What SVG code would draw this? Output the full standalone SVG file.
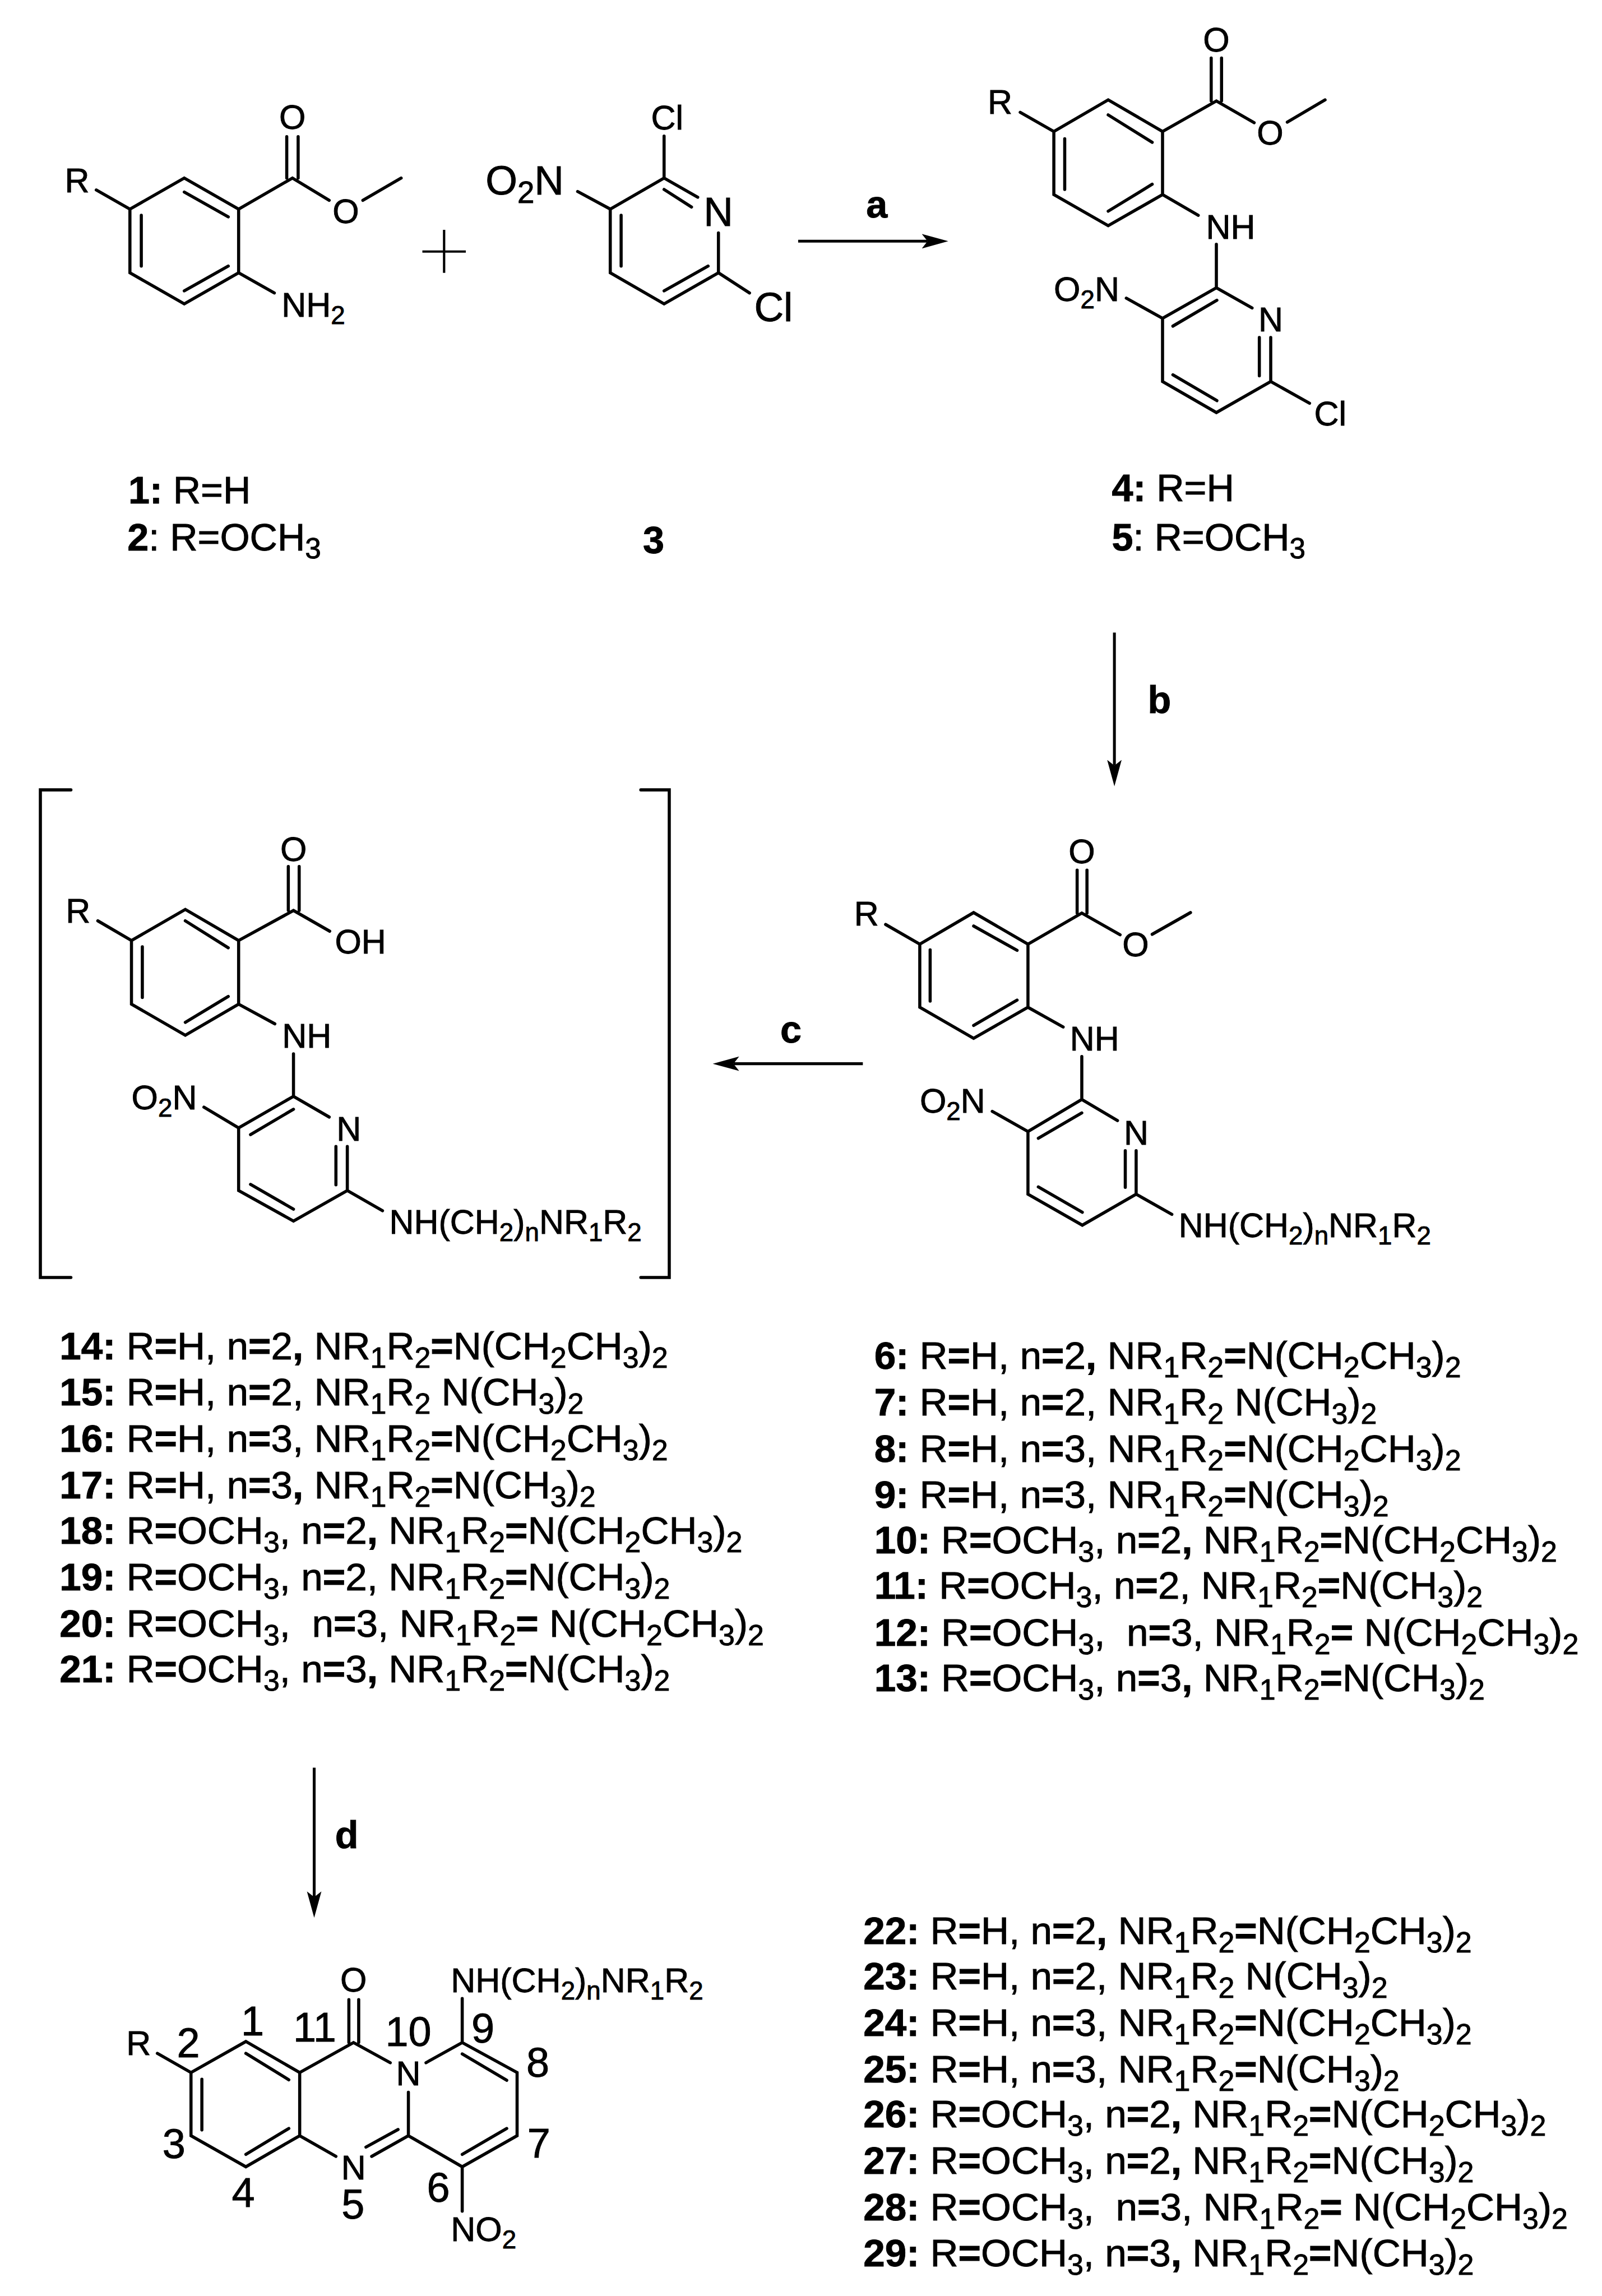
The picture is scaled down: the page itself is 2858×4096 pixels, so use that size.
<svg xmlns="http://www.w3.org/2000/svg" width="2858" height="4096" viewBox="0 0 2858 4096">
<style>
text{font-family:"Liberation Sans",Arial,sans-serif;fill:#000;stroke:#000;stroke-width:1;white-space:pre}
.m{font-size:66px}.l{font-size:79px}.c{font-size:74px}.t{font-size:75px}.n{font-size:80px;text-anchor:middle}.mid{text-anchor:middle}
.h{font-weight:bold}.b{font-weight:bold}
.s{font-size:.75em;baseline-shift:-.28em}
.bond{fill:none;stroke:#000;stroke-width:6;stroke-linecap:round;stroke-linejoin:miter}
.thin{fill:none;stroke:#000;stroke-width:4.5}
.arrow{fill:none;stroke:#000;stroke-width:5.5}
</style>
<defs><marker id="head" markerUnits="userSpaceOnUse" markerWidth="52" markerHeight="30" viewBox="0 0 52 30" refX="11" refY="15" orient="auto"><path d="M0 1L51 15L0 29L11 15Z" fill="#000"/></marker></defs>
<rect width="2858" height="4096" fill="#fff"/>
<g transform="scale(0.92342)">
<g id="connectors">
<path class="arrow" marker-end="url(#head)" d="M1542 466H1792"/>
<path class="arrow" marker-end="url(#head)" d="M2153 1222V1479"/>
<path class="arrow" marker-end="url(#head)" d="M1667 2055H1417"/>
<path class="arrow" marker-end="url(#head)" d="M607 3415V3665"/>
<text class="c h mid" x="1694" y="420">a</text>
<text class="c h mid" x="2240" y="1378">b</text>
<text class="c h mid" x="1528" y="2014">c</text>
<text class="c h mid" x="670" y="3570">d</text>
</g>
<g id="plus"><path class="thin" d="M816 486H900M858 444V527"/></g>
<g id="compound-1">
<path class="bond" d="M186 367L251 404L356 344L461 404V527L356 587L251 527V404M356 371L441 419M273 416V514M356 562L441 514M461 404L565 344L636 387M701 387L775 344M554 344V264M576 344V264M461 527L530 566"/>
<text class="m" x="125" y="371">R</text><text class="m mid" x="565" y="249">O</text><text class="m mid" x="668" y="431">O</text>
<text class="m" x="544" y="612">NH<tspan class="s">2</tspan></text>
<text class="c" x="248" y="973"><tspan class="h">1:</tspan> R=H</text>
<text class="c" x="246" y="1063"><tspan class="h">2</tspan>: R=OCH<tspan class="s">3</tspan></text>
</g>
<g id="compound-3">
<path class="bond" d="M1116 370L1179 404L1283 344L1348 381M1388 450V527L1283 587L1179 527V404M1283 366L1336 400M1200 416V514M1283 562L1368 514M1388 527L1448 566M1283 263V344"/>
<text class="m mid" x="1289" y="250">Cl</text>
<text class="l" x="938" y="376">O<tspan class="s">2</tspan>N</text>
<text class="l mid" x="1388" y="436">N</text>
<text class="l" x="1457" y="620">Cl</text>
<text class="c h" x="1242" y="1069">3</text>
</g>
<g id="compound-4">
<path class="bond" d="M1971 217L2036 254L2141 193L2246 254V376L2141 436L2036 376V254M2141 222L2226 275M2057 268V366M2141 408L2226 356M2246 254L2350 195L2423 237M2487 236L2560 193M2340 195V112M2360 195V112M2246 376L2315 416M2350 472V556L2419 595M2350 556L2246 615V737L2350 797L2455 737V652M2351 580L2266 630M2433 652V726M2266 724L2351 774M2455 737L2530 779M2176 576L2246 615"/>
<text class="m" x="1908" y="220">R</text><text class="m mid" x="2350" y="100">O</text><text class="m mid" x="2454" y="279">O</text>
<text class="m" x="2330" y="461">NH</text>
<text class="m" x="2036" y="581">O<tspan class="s">2</tspan>N</text>
<text class="m mid" x="2455" y="640">N</text>
<text class="m" x="2539" y="822">Cl</text>
<text class="c" x="2148" y="968"><tspan class="h">4:</tspan> R=H</text>
<text class="c" x="2148" y="1063"><tspan class="h">5</tspan>: R=OCH<tspan class="s">3</tspan></text>
</g>
<g id="compound-6">
<path class="bond" d="M1711 1786L1777 1824L1881 1763L1986 1824V1946L1881 2006L1777 1946V1824M1881 1789L1965 1836M1797 1835V1934M1881 1981L1965 1932M1986 1824L2090 1764L2164 1806M2226 1805L2300 1763M2081 1764V1681M2100 1764V1681M1986 1946L2054 1984M2090 2041V2124L2159 2165M2090 2124L1986 2186V2307L2091 2367L2195 2307V2223M2090 2150L2006 2199M2174 2223V2294M2006 2293L2091 2342M2195 2307L2264 2346M1917 2147L1986 2186"/>
<text class="m" x="1650" y="1788">R</text><text class="m mid" x="2090" y="1668">O</text><text class="m mid" x="2194" y="1848">O</text>
<text class="m" x="2067" y="2029">NH</text>
<text class="m" x="1777" y="2150">O<tspan class="s">2</tspan>N</text>
<text class="m mid" x="2195" y="2211">N</text>
<text class="m" x="2277" y="2390">NH(CH<tspan class="s">2</tspan>)<tspan class="s">n</tspan>NR<tspan class="s">1</tspan>R<tspan class="s">2</tspan></text>
</g>
<g id="compound-14">
<path class="bond" d="M137 1526H78V2468H137M1238 1526H1293V2468H1238"/>
<path class="bond" d="M189 1779L254 1817L358 1757L461 1817V1940L358 2000L254 1940V1817M358 1779L441 1831M275 1829V1927M358 1975L441 1925M461 1817L567 1759L637 1799M557 1759V1674M578 1759V1674M461 1940L531 1978M567 2036V2118L636 2158M567 2118L461 2179V2300L567 2359L671 2300V2215M567 2143L484 2192M649 2215V2289M484 2288L567 2336M671 2300L739 2339M394 2139L461 2179"/>
<text class="m" x="127" y="1783">R</text><text class="m mid" x="567" y="1663">O</text>
<text class="m" x="647" y="1842">OH</text>
<text class="m" x="545" y="2024">NH</text>
<text class="m" x="254" y="2143">O<tspan class="s">2</tspan>N</text>
<text class="m" x="650" y="2204">N</text>
<text class="m" x="752" y="2384">NH(CH<tspan class="s">2</tspan>)<tspan class="s">n</tspan>NR<tspan class="s">1</tspan>R<tspan class="s">2</tspan></text>
</g>
<g id="list-14-21">
<text class="t" x="115" y="2626"><tspan class="h">14:</tspan> R<tspan class="b">=</tspan>H, n<tspan class="b">=</tspan>2<tspan class="b">,</tspan> NR<tspan class="s">1</tspan>R<tspan class="s">2</tspan><tspan class="b">=</tspan>N(CH<tspan class="s">2</tspan>CH<tspan class="s">3</tspan>)<tspan class="s">2</tspan></text>
<text class="t" x="115" y="2715"><tspan class="h">15:</tspan> R<tspan class="b">=</tspan>H, n<tspan class="b">=</tspan>2, NR<tspan class="s">1</tspan>R<tspan class="s">2</tspan> N(CH<tspan class="s">3</tspan>)<tspan class="s">2</tspan></text>
<text class="t" x="115" y="2805"><tspan class="h">16:</tspan> R<tspan class="b">=</tspan>H, n<tspan class="b">=</tspan>3, NR<tspan class="s">1</tspan>R<tspan class="s">2</tspan><tspan class="b">=</tspan>N(CH<tspan class="s">2</tspan>CH<tspan class="s">3</tspan>)<tspan class="s">2</tspan></text>
<text class="t" x="115" y="2895"><tspan class="h">17:</tspan> R<tspan class="b">=</tspan>H, n<tspan class="b">=</tspan>3<tspan class="b">,</tspan> NR<tspan class="s">1</tspan>R<tspan class="s">2</tspan><tspan class="b">=</tspan>N(CH<tspan class="s">3</tspan>)<tspan class="s">2</tspan></text>
<text class="t" x="115" y="2982"><tspan class="h">18:</tspan> R<tspan class="b">=</tspan>OCH<tspan class="s">3</tspan>, n<tspan class="b">=</tspan>2<tspan class="b">,</tspan> NR<tspan class="s">1</tspan>R<tspan class="s">2</tspan><tspan class="b">=</tspan>N(CH<tspan class="s">2</tspan>CH<tspan class="s">3</tspan>)<tspan class="s">2</tspan></text>
<text class="t" x="115" y="3072"><tspan class="h">19:</tspan> R<tspan class="b">=</tspan>OCH<tspan class="s">3</tspan>, n<tspan class="b">=</tspan>2, NR<tspan class="s">1</tspan>R<tspan class="s">2</tspan><tspan class="b">=</tspan>N(CH<tspan class="s">3</tspan>)<tspan class="s">2</tspan></text>
<text class="t" x="115" y="3162"><tspan class="h">20:</tspan> R<tspan class="b">=</tspan>OCH<tspan class="s">3</tspan>,  n<tspan class="b">=</tspan>3, NR<tspan class="s">1</tspan>R<tspan class="s">2</tspan><tspan class="b">=</tspan> N(CH<tspan class="s">2</tspan>CH<tspan class="s">3</tspan>)<tspan class="s">2</tspan></text>
<text class="t" x="115" y="3250"><tspan class="h">21:</tspan> R<tspan class="b">=</tspan>OCH<tspan class="s">3</tspan>, n<tspan class="b">=</tspan>3<tspan class="b">,</tspan> NR<tspan class="s">1</tspan>R<tspan class="s">2</tspan><tspan class="b">=</tspan>N(CH<tspan class="s">3</tspan>)<tspan class="s">2</tspan></text>
</g>
<g id="list-6-13">
<text class="t" x="1689" y="2645"><tspan class="h">6:</tspan> R<tspan class="b">=</tspan>H, n<tspan class="b">=</tspan>2<tspan class="b">,</tspan> NR<tspan class="s">1</tspan>R<tspan class="s">2</tspan><tspan class="b">=</tspan>N(CH<tspan class="s">2</tspan>CH<tspan class="s">3</tspan>)<tspan class="s">2</tspan></text>
<text class="t" x="1689" y="2734"><tspan class="h">7:</tspan> R<tspan class="b">=</tspan>H, n<tspan class="b">=</tspan>2, NR<tspan class="s">1</tspan>R<tspan class="s">2</tspan> N(CH<tspan class="s">3</tspan>)<tspan class="s">2</tspan></text>
<text class="t" x="1689" y="2824"><tspan class="h">8:</tspan> R<tspan class="b">=</tspan>H, n<tspan class="b">=</tspan>3, NR<tspan class="s">1</tspan>R<tspan class="s">2</tspan><tspan class="b">=</tspan>N(CH<tspan class="s">2</tspan>CH<tspan class="s">3</tspan>)<tspan class="s">2</tspan></text>
<text class="t" x="1689" y="2913"><tspan class="h">9:</tspan> R<tspan class="b">=</tspan>H, n<tspan class="b">=</tspan>3, NR<tspan class="s">1</tspan>R<tspan class="s">2</tspan><tspan class="b">=</tspan>N(CH<tspan class="s">3</tspan>)<tspan class="s">2</tspan></text>
<text class="t" x="1689" y="3001"><tspan class="h">10:</tspan> R<tspan class="b">=</tspan>OCH<tspan class="s">3</tspan>, n<tspan class="b">=</tspan>2<tspan class="b">,</tspan> NR<tspan class="s">1</tspan>R<tspan class="s">2</tspan><tspan class="b">=</tspan>N(CH<tspan class="s">2</tspan>CH<tspan class="s">3</tspan>)<tspan class="s">2</tspan></text>
<text class="t" x="1689" y="3089"><tspan class="h">11:</tspan> R<tspan class="b">=</tspan>OCH<tspan class="s">3</tspan>, n<tspan class="b">=</tspan>2, NR<tspan class="s">1</tspan>R<tspan class="s">2</tspan><tspan class="b">=</tspan>N(CH<tspan class="s">3</tspan>)<tspan class="s">2</tspan></text>
<text class="t" x="1689" y="3179"><tspan class="h">12:</tspan> R<tspan class="b">=</tspan>OCH<tspan class="s">3</tspan>,  n<tspan class="b">=</tspan>3, NR<tspan class="s">1</tspan>R<tspan class="s">2</tspan><tspan class="b">=</tspan> N(CH<tspan class="s">2</tspan>CH<tspan class="s">3</tspan>)<tspan class="s">2</tspan></text>
<text class="t" x="1689" y="3267"><tspan class="h">13:</tspan> R<tspan class="b">=</tspan>OCH<tspan class="s">3</tspan>, n<tspan class="b">=</tspan>3<tspan class="b">,</tspan> NR<tspan class="s">1</tspan>R<tspan class="s">2</tspan><tspan class="b">=</tspan>N(CH<tspan class="s">3</tspan>)<tspan class="s">2</tspan></text>
</g>
<g id="compound-22">
<path class="bond" d="M304 3967L369 4004L475 3944L579 4004V4126L475 4186L369 4126V4004M475 3967L558 4018M390 4017V4115M475 4162L558 4112M579 4004L683 3946L754 3985M823 3985L893 3946L999 4004V4126L893 4186L789 4126V4042M893 3968L979 4019M979 4112L893 4162M789 4126L718 4166M769 4114L707 4148M579 4126L649 4166M674 3946V3863M693 3946V3863M893 3861V3946M893 4186V4272"/>
<text class="m" x="244" y="3970">R</text>
<text class="m mid" x="683" y="3848">O</text>
<text class="m mid" x="789" y="4029">N</text>
<text class="m mid" x="683" y="4210">N</text>
<text class="m" x="871" y="3849">NH(CH<tspan class="s">2</tspan>)<tspan class="s">n</tspan>NR<tspan class="s">1</tspan>R<tspan class="s">2</tspan></text>
<text class="m" x="871" y="4330">NO<tspan class="s">2</tspan></text>
<text class="n" x="488" y="3932">1</text>
<text class="n" x="364" y="3974">2</text>
<text class="n" x="336" y="4169">3</text>
<text class="n" x="470" y="4263">4</text>
<text class="n" x="682" y="4286">5</text>
<text class="n" x="847" y="4254">6</text>
<text class="n" x="1041" y="4168">7</text>
<text class="n" x="1039" y="4012">8</text>
<text class="n" x="933" y="3946">9</text>
<text class="n" x="789" y="3953">10</text>
<text class="n" x="608" y="3944">11</text>
</g>
<g id="list-22-29">
<text class="t" x="1668" y="3756"><tspan class="h">22:</tspan> R<tspan class="b">=</tspan>H, n<tspan class="b">=</tspan>2<tspan class="b">,</tspan> NR<tspan class="s">1</tspan>R<tspan class="s">2</tspan><tspan class="b">=</tspan>N(CH<tspan class="s">2</tspan>CH<tspan class="s">3</tspan>)<tspan class="s">2</tspan></text>
<text class="t" x="1668" y="3843"><tspan class="h">23:</tspan> R<tspan class="b">=</tspan>H, n<tspan class="b">=</tspan>2, NR<tspan class="s">1</tspan>R<tspan class="s">2</tspan> N(CH<tspan class="s">3</tspan>)<tspan class="s">2</tspan></text>
<text class="t" x="1668" y="3933"><tspan class="h">24:</tspan> R<tspan class="b">=</tspan>H, n<tspan class="b">=</tspan>3, NR<tspan class="s">1</tspan>R<tspan class="s">2</tspan><tspan class="b">=</tspan>N(CH<tspan class="s">2</tspan>CH<tspan class="s">3</tspan>)<tspan class="s">2</tspan></text>
<text class="t" x="1668" y="4023"><tspan class="h">25:</tspan> R<tspan class="b">=</tspan>H, n<tspan class="b">=</tspan>3, NR<tspan class="s">1</tspan>R<tspan class="s">2</tspan><tspan class="b">=</tspan>N(CH<tspan class="s">3</tspan>)<tspan class="s">2</tspan></text>
<text class="t" x="1668" y="4110"><tspan class="h">26:</tspan> R<tspan class="b">=</tspan>OCH<tspan class="s">3</tspan>, n<tspan class="b">=</tspan>2<tspan class="b">,</tspan> NR<tspan class="s">1</tspan>R<tspan class="s">2</tspan><tspan class="b">=</tspan>N(CH<tspan class="s">2</tspan>CH<tspan class="s">3</tspan>)<tspan class="s">2</tspan></text>
<text class="t" x="1668" y="4200"><tspan class="h">27:</tspan> R<tspan class="b">=</tspan>OCH<tspan class="s">3</tspan>, n<tspan class="b">=</tspan>2<tspan class="b">,</tspan> NR<tspan class="s">1</tspan>R<tspan class="s">2</tspan><tspan class="b">=</tspan>N(CH<tspan class="s">3</tspan>)<tspan class="s">2</tspan></text>
<text class="t" x="1668" y="4289"><tspan class="h">28:</tspan> R<tspan class="b">=</tspan>OCH<tspan class="s">3</tspan>,  n<tspan class="b">=</tspan>3, NR<tspan class="s">1</tspan>R<tspan class="s">2</tspan><tspan class="b">=</tspan> N(CH<tspan class="s">2</tspan>CH<tspan class="s">3</tspan>)<tspan class="s">2</tspan></text>
<text class="t" x="1668" y="4378"><tspan class="h">29:</tspan> R<tspan class="b">=</tspan>OCH<tspan class="s">3</tspan>, n<tspan class="b">=</tspan>3<tspan class="b">,</tspan> NR<tspan class="s">1</tspan>R<tspan class="s">2</tspan><tspan class="b">=</tspan>N(CH<tspan class="s">3</tspan>)<tspan class="s">2</tspan></text>
</g>
</g>
</svg>
